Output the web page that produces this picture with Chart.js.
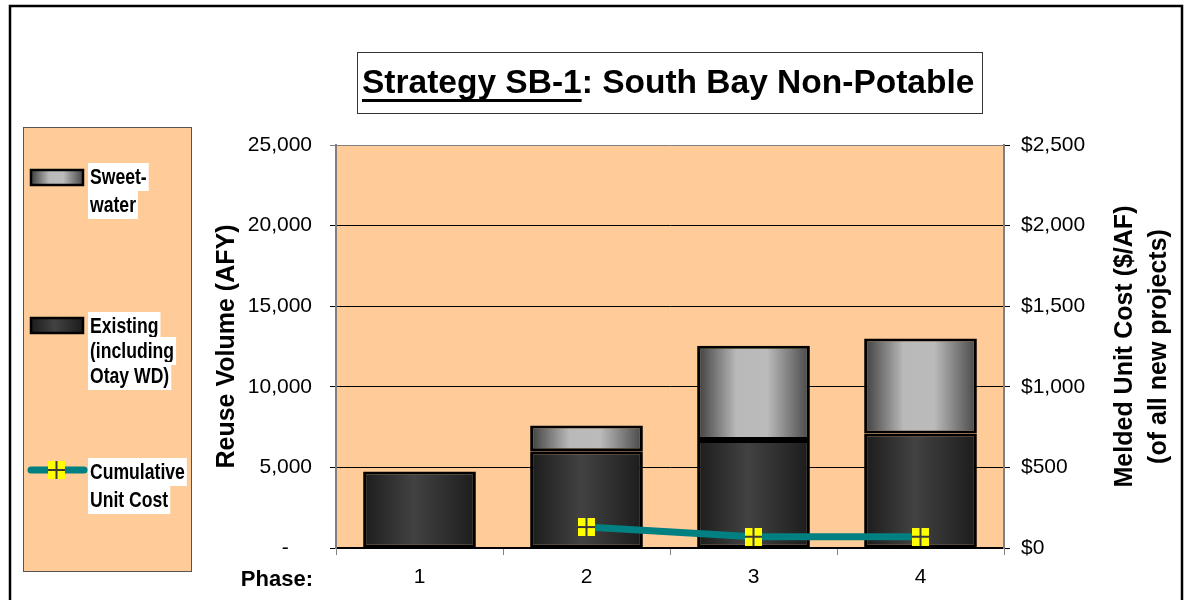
<!DOCTYPE html>
<html>
<head>
<meta charset="utf-8">
<title>Strategy SB-1: South Bay Non-Potable</title>
<script src="https://cdn.jsdelivr.net/npm/chart.js@4.4.1/dist/chart.umd.min.js"></script>
<style>
  html, body { margin: 0; padding: 0; background: #fff; }
  canvas { display: block; }
</style>
</head>
<body>
<canvas id="sb1Chart" width="1188" height="600"></canvas>
<script>
// --- Data ---
const phases = ["1", "2", "3", "4"];
const existingAFY = [4750, 6000, 6700, 7100];
const sweetwaterAFY = [null, 1600, 5850, 5900];
const unitCost = [null, 130, 70, 70];
const seriesNames = ["Sweetwater", "Existing (including Otay WD)", "Cumulative Unit Cost"];

// --- Look ---
const FONT = "'Liberation Sans', Arial, Helvetica, sans-serif";
const PEACH = "#FFCC99";
const TEAL = "#008080";
const BAR_PCT = 0.675;
const existingStops = [[0, "#1c1c1c"], [0.45, "#424242"], [1, "#1c1c1c"]];
const sweetStops = [[0, "#3e3e3e"], [0.35, "#b9b9b9"], [0.62, "#bbbbbb"], [1, "#474747"]];

function makeGradient(g2d, x0, x1, stops) {
    const g = g2d.createLinearGradient(x0, 0, x1, 0);
    stops.forEach(s => g.addColorStop(s[0], s[1]));
    return g;
}

function barFill(stops) {
    return function(ctx) {
        const chart = ctx.chart;
        if (!chart.chartArea) return stops[1][1];
        const xs = chart.scales.x;
        const c = xs.getPixelForValue(ctx.dataIndex);
        const half = xs.width / phases.length * BAR_PCT / 2;
        return makeGradient(chart.ctx, c - half, c + half, stops);
    };
}

// yellow square marker with a dark cross
const marker = document.createElement('canvas');
marker.width = 17;
marker.height = 18;
(function() {
    const m = marker.getContext('2d');
    m.fillStyle = "#FFFF00";
    m.fillRect(0, 0, 17, 18);
    m.strokeStyle = "#3a3a3a";
    m.lineWidth = 2;
    m.beginPath();
    m.moveTo(8.5, 0); m.lineTo(8.5, 18);
    m.moveTo(0, 9); m.lineTo(17, 9);
    m.stroke();
})();

// condensed bold text like the legend in the original
function narrowText(g, text, x, y, size, sx) {
    g.save();
    g.font = "bold " + size + "px " + FONT;
    g.textBaseline = "middle";
    g.textAlign = "left";
    const w = g.measureText(text).width * sx;
    g.fillStyle = "#fff";
    g.fillRect(x - 2, y - 14, w + 4, 28);
    g.translate(x, y);
    g.scale(sx, 1);
    g.fillStyle = "#000";
    g.fillText(text, 0, 1);
    g.restore();
}

// --- Decorations: frame, plot fill, title, legend, labels ---
const decorations = {
    id: 'decorations',
    beforeDraw(chart) {
        const g = chart.ctx;
        const a = chart.chartArea;
        g.save();
        g.fillStyle = "#fff";
        g.fillRect(0, 0, chart.width, chart.height);

        // outer frame
        g.strokeStyle = "#000";
        g.lineWidth = 2.5;
        g.strokeRect(10, 6, 1172, 620);

        // plot area
        g.fillStyle = PEACH;
        g.fillRect(a.left, a.top, a.right - a.left, a.bottom - a.top);

        // title box
        g.fillStyle = "#fff";
        g.fillRect(357, 52, 625, 61);
        g.strokeStyle = "#333";
        g.lineWidth = 1;
        g.strokeRect(357.5, 52.5, 625, 61);
        g.font = "bold 33.5px " + FONT;
        g.fillStyle = "#000";
        g.textBaseline = "alphabetic";
        g.textAlign = "left";
        const part1 = "Strategy SB-1";
        g.fillText(part1, 362, 93);
        const w1 = g.measureText(part1).width;
        g.fillText(": South Bay Non-Potable", 362 + w1, 93);
        g.fillRect(362, 99, w1, 3);

        // legend box
        g.fillStyle = PEACH;
        g.fillRect(24, 127, 168, 444);
        g.strokeStyle = "#555";
        g.lineWidth = 1;
        g.strokeRect(23.5, 127.5, 168, 444);

        // swatches
        g.lineWidth = 2.5;
        g.strokeStyle = "#000";
        g.fillStyle = makeGradient(g, 31, 83, sweetStops);
        g.fillRect(31, 170, 52, 15);
        g.strokeRect(31, 170, 52, 15);
        g.fillStyle = makeGradient(g, 31, 83, existingStops);
        g.fillRect(31, 318, 52, 15);
        g.strokeRect(31, 318, 52, 15);

        // line sample
        g.strokeStyle = TEAL;
        g.lineWidth = 7;
        g.lineCap = "round";
        g.beginPath();
        g.moveTo(31, 470);
        g.lineTo(84, 470);
        g.stroke();
        g.drawImage(marker, 48, 461);

        narrowText(g, "Sweet-", 90, 177, 22, 0.8);
        narrowText(g, "water", 90, 205, 22, 0.8);
        narrowText(g, "Existing", 90, 326, 22, 0.8);
        narrowText(g, "(including", 90, 351, 22, 0.8);
        narrowText(g, "Otay WD)", 90, 376, 22, 0.8);
        narrowText(g, "Cumulative", 90, 472, 22, 0.8);
        narrowText(g, "Unit Cost", 90, 500, 22, 0.8);
        g.restore();
    },
    afterDraw(chart) {
        const g = chart.ctx;
        const a = chart.chartArea;
        g.save();
        // right axis title, reading bottom to top
        g.font = "bold 25px " + FONT;
        g.fillStyle = "#000";
        g.textAlign = "center";
        g.textBaseline = "middle";
        const cy = (a.top + a.bottom) / 2;
        g.translate(1125, cy);
        g.rotate(-Math.PI / 2);
        g.fillText("Melded Unit Cost ($/AF)", 0, 0);
        g.fillText("(of all new projects)", 0, 34);
        g.restore();

        g.save();
        g.font = "bold 22px " + FONT;
        g.fillStyle = "#000";
        g.textAlign = "right";
        g.textBaseline = "middle";
        g.fillText("Phase:", 313, 580);
        g.restore();
    }
};

// --- Chart ---
new Chart(document.getElementById('sb1Chart').getContext('2d'), {
    type: 'bar',
    data: {
        labels: phases,
        datasets: [
            {
                type: 'line',
                label: seriesNames[2],
                data: unitCost,
                yAxisID: 'y1',
                borderColor: TEAL,
                borderWidth: 7,
                pointStyle: marker,
                tension: 0,
                order: 0
            },
            {
                label: seriesNames[1],
                data: existingAFY,
                yAxisID: 'y',
                backgroundColor: barFill(existingStops),
                borderColor: "#000",
                borderWidth: 3,
                borderSkipped: false,
                barPercentage: BAR_PCT,
                categoryPercentage: 1,
                order: 1
            },
            {
                label: seriesNames[0],
                data: sweetwaterAFY,
                yAxisID: 'y',
                backgroundColor: barFill(sweetStops),
                borderColor: "#000",
                borderWidth: 3,
                borderSkipped: false,
                barPercentage: BAR_PCT,
                categoryPercentage: 1,
                order: 1
            }
        ]
    },
    options: {
        responsive: false,
        animation: false,
        devicePixelRatio: 1,
        layout: { padding: { left: 200, right: 84, top: 145, bottom: 0 } },
        plugins: { legend: { display: false }, tooltip: { enabled: false } },
        scales: {
            x: {
                stacked: true,
                grid: { drawOnChartArea: false, color: "#808080", tickLength: 7, offset: true },
                border: { color: "#000", width: 2 },
                ticks: { color: "#000", font: { family: FONT, size: 21 }, padding: 10 },
                afterFit(s) { s.height = 52; }
            },
            y: {
                stacked: true,
                position: 'left',
                min: 0,
                max: 25000,
                ticks: {
                    stepSize: 5000,
                    color: "#000",
                    font: { family: FONT, size: 21 },
                    padding: 18,
                    callback: v => v === 0 ? "-    " : v.toLocaleString('en-US')
                },
                grid: {
                    color: c => (c.tick && c.tick.value === 25000) ? "#808080" : "#000",
                    lineWidth: 1,
                    tickLength: 6
                },
                border: { color: "#808080", width: 2 },
                title: {
                    display: true,
                    text: "Reuse Volume (AFY)",
                    color: "#000",
                    font: { family: FONT, size: 25, weight: 'bold' },
                    padding: { top: 12, bottom: 0 }
                },
                afterFit(s) { s.width = 136; }
            },
            y1: {
                position: 'right',
                min: 0,
                max: 2500,
                ticks: {
                    stepSize: 500,
                    color: "#000",
                    font: { family: FONT, size: 21 },
                    padding: 11,
                    callback: v => "$" + v.toLocaleString('en-US')
                },
                grid: { drawOnChartArea: false, color: "#000", tickLength: 6 },
                border: { color: "#808080", width: 2 },
                afterFit(s) { s.width = 100; }
            }
        }
    },
    plugins: [decorations]
});
</script>
</body>
</html>
